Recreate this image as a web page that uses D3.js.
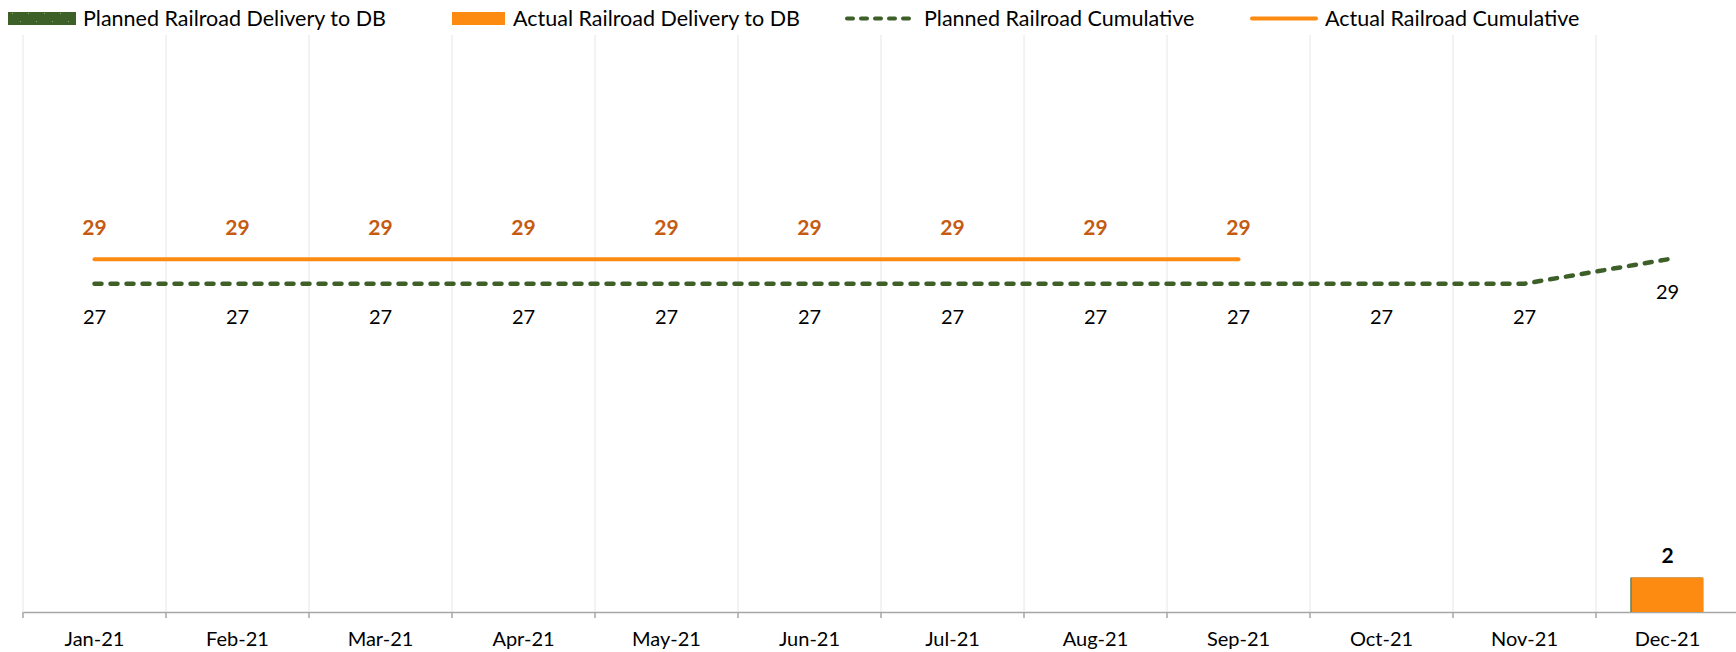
<!DOCTYPE html>
<html>
<head>
<meta charset="utf-8">
<script src="https://cdn.jsdelivr.net/npm/d3@7"></script>
<style>
  body { margin: 0; background: #fff; }
  svg { display: block; font-family: Lato, "Open Sans", sans-serif; }
</style>
</head>
<body>
<div class="board"></div>
<script>
// chart data
var months = ["Jan-21", "Feb-21", "Mar-21", "Apr-21", "May-21", "Jun-21",
              "Jul-21", "Aug-21", "Sep-21", "Oct-21", "Nov-21", "Dec-21"];
var plannedDelivery = [null, null, null, null, null, null, null, null, null, null, null, 2];
var actualDelivery  = [null, null, null, null, null, null, null, null, null, null, null, 2];
var plannedCumulative = [27, 27, 27, 27, 27, 27, 27, 27, 27, 27, 27, 29];
var actualCumulative  = [29, 29, 29, 29, 29, 29, 29, 29, 29, null, null, null];
var legendLabels = ["Planned Railroad Delivery to DB", "Actual Railroad Delivery to DB",
                    "Planned Railroad Cumulative", "Actual Railroad Cumulative"];

var boardInfo = { width: 1736, height: 652 };
var plot = { left: 23, right: 1739, top: 35, bottom: 612 };

var green = "#3d5f28";
var orange = "#fd8b12";
var orangeText = "#c55a11";

var svg = d3.select(".board").append("svg")
  .attr("width", boardInfo.width)
  .attr("height", boardInfo.height);

// pattern for the legend swatch of the planned bars
var defs = svg.append("defs");
var pat = defs.append("pattern")
  .attr("id", "dots")
  .attr("patternUnits", "userSpaceOnUse")
  .attr("width", 16).attr("height", 16)
  .attr("x", 8).attr("y", 12);
pat.append("rect").attr("width", 16).attr("height", 16).attr("fill", green);
pat.append("rect").attr("x", 4).attr("y", 1).attr("width", 1).attr("height", 1).attr("fill", "#8fa86f");
pat.append("rect").attr("x", 12).attr("y", 9).attr("width", 1).attr("height", 1).attr("fill", "#8fa86f");

var x = d3.scaleBand().domain(months).range([plot.left, plot.right]).paddingInner(0).paddingOuter(0);
// primary axis for bars, secondary axis for the cumulative lines (both hidden)
var y1 = d3.scaleLinear().domain([0, 33.5]).range([plot.bottom, plot.top]);
var y2 = d3.scaleLinear().domain([0, 47.45]).range([plot.bottom, plot.top]);

var bw = x.bandwidth();
var cx = function(i) { return x(months[i]) + bw / 2; };

// vertical gridlines at category boundaries
var bounds = months.map(function(m) { return x(m); });
svg.selectAll(".grid").data(bounds)
  .enter().append("line")
  .attr("class", "grid")
  .attr("x1", function(d) { return d; }).attr("x2", function(d) { return d; })
  .attr("y1", plot.top).attr("y2", plot.bottom)
  .attr("stroke", "#e6e6e6").attr("stroke-width", 1);

// category axis
var xAxis = d3.axisBottom(x).tickSize(0).tickPadding(20);
var gx = svg.append("g")
  .attr("transform", "translate(0," + plot.bottom + ")")
  .call(xAxis);
gx.select(".domain").attr("stroke", "#a6a6a6").attr("stroke-width", 1.5);
gx.selectAll("text").attr("font-size", 20).attr("fill", "#000").attr("font-family", "Lato, sans-serif");
svg.selectAll(".tickmark").data(bounds)
  .enter().append("line")
  .attr("class", "tickmark")
  .attr("x1", function(d) { return d; }).attr("x2", function(d) { return d; })
  .attr("y1", plot.bottom).attr("y2", plot.bottom + 6)
  .attr("stroke", "#a6a6a6").attr("stroke-width", 1.5);

// bars (planned sits behind actual)
var barW = bw * 0.505;
var bars = months.map(function(m, i) { return { i: i, p: plannedDelivery[i], a: actualDelivery[i] }; });
svg.selectAll(".pbar").data(bars.filter(function(d) { return d.p != null; }))
  .enter().append("rect")
  .attr("class", "pbar")
  .attr("x", function(d) { return cx(d.i) - barW / 2 - 1; })
  .attr("y", function(d) { return y1(d.p); })
  .attr("width", barW)
  .attr("height", function(d) { return y1(0) - y1(d.p); })
  .attr("fill", green);
svg.selectAll(".abar").data(bars.filter(function(d) { return d.a != null; }))
  .enter().append("rect")
  .attr("class", "abar")
  .attr("x", function(d) { return cx(d.i) - barW / 2; })
  .attr("y", function(d) { return y1(d.a); })
  .attr("width", barW)
  .attr("height", function(d) { return y1(0) - y1(d.a); })
  .attr("fill", orange);
svg.selectAll(".alabel").data(bars.filter(function(d) { return d.a != null; }))
  .enter().append("text")
  .attr("x", function(d) { return cx(d.i); })
  .attr("y", function(d) { return y1(d.a) - 22; })
  .attr("dy", "0.35em")
  .attr("text-anchor", "middle")
  .attr("font-size", 21).attr("font-weight", "bold")
  .text(function(d) { return d.a; });

// cumulative lines
var line = d3.line()
  .defined(function(d) { return d.v != null; })
  .x(function(d) { return cx(d.i); })
  .y(function(d) { return y2(d.v); });

var planned = plannedCumulative.map(function(v, i) { return { i: i, v: v }; });
var actual = actualCumulative.map(function(v, i) { return { i: i, v: v }; });

svg.append("path").datum(planned)
  .attr("d", line)
  .attr("fill", "none").attr("stroke", green)
  .attr("stroke-width", 4.5)
  .attr("stroke-linecap", "round")
  .attr("stroke-dasharray", "7,9");

svg.append("path").datum(actual)
  .attr("d", line)
  .attr("fill", "none").attr("stroke", orange)
  .attr("stroke-width", 4)
  .attr("stroke-linecap", "round");

svg.selectAll(".plabel").data(planned.filter(function(d) { return d.v != null; }))
  .enter().append("text")
  .attr("x", function(d) { return cx(d.i); })
  .attr("y", function(d) { return y2(d.v) + 33; })
  .attr("dy", "0.35em")
  .attr("text-anchor", "middle")
  .attr("font-size", 20).attr("fill", "#000")
  .text(function(d) { return d.v; });

svg.selectAll(".aclabel").data(actual.filter(function(d) { return d.v != null; }))
  .enter().append("text")
  .attr("x", function(d) { return cx(d.i); })
  .attr("y", function(d) { return y2(d.v) - 32; })
  .attr("dy", "0.35em")
  .attr("text-anchor", "middle")
  .attr("font-size", 21).attr("font-weight", "bold").attr("fill", orangeText)
  .text(function(d) { return d.v; });

// legend
var lg = svg.append("g").attr("font-size", 21.5);
var legendY = 18.5;
lg.append("rect").attr("x", 8).attr("y", 12).attr("width", 68).attr("height", 13).attr("fill", "url(#dots)");
lg.append("rect").attr("x", 452).attr("y", 12).attr("width", 53).attr("height", 13).attr("fill", orange);
lg.append("line").attr("x1", 847).attr("x2", 916).attr("y1", legendY).attr("y2", legendY)
  .attr("stroke", green).attr("stroke-width", 4).attr("stroke-linecap", "round").attr("stroke-dasharray", "6,8");
lg.append("line").attr("x1", 1252).attr("x2", 1316).attr("y1", legendY).attr("y2", legendY)
  .attr("stroke", orange).attr("stroke-width", 4).attr("stroke-linecap", "round");
var legendX = [83, 513, 924, 1325];
lg.selectAll("text").data(legendLabels)
  .enter().append("text")
  .attr("x", function(d, i) { return legendX[i]; })
  .attr("y", legendY)
  .attr("dy", "0.35em")
  .text(function(d) { return d; });
</script>
</body>
</html>
